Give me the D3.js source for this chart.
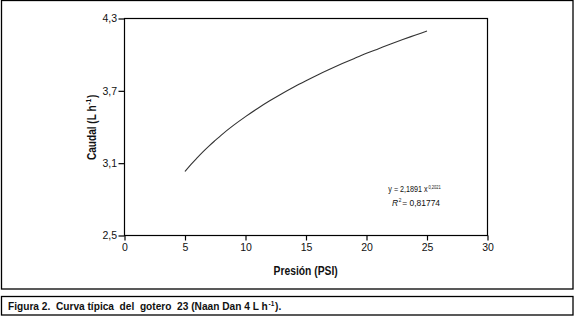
<!DOCTYPE html>
<html>
  <head>
    <meta charset="UTF-8" />
    <script src="https://d3js.org/d3.v7.min.js"></script>
    <style>
      body { margin: 0; background: #fff; }
      text { font-family: "Liberation Sans", Arial, sans-serif; fill: #111; }
    </style>
  </head>
  <body>
    <div id="my_dataviz"></div>
    <script>
      // values
      var presion = [5, 5.5, 6, 6.5, 7, 7.5, 8, 9, 10, 11, 12, 13, 14, 15, 16, 17, 18, 19, 20, 21, 22, 23, 24, 25];
      var caudal = [3.031, 3.090, 3.144, 3.196, 3.244, 3.289, 3.333, 3.413, 3.486, 3.554, 3.617, 3.676, 3.732,
                    3.784, 3.834, 3.881, 3.926, 3.969, 4.011, 4.050, 4.089, 4.126, 4.161, 4.196];
      var xTicks = [0, 5, 10, 15, 20, 25, 30];
      var yTicks = [2.5, 3.1, 3.7, 4.3];

      var W = 574, H = 317;
      var margin = { top: 18.5, left: 124.5 },
        width = 487.5 - margin.left,
        height = 235.5 - margin.top;

      var svg = d3.select("#my_dataviz").append("svg")
        .attr("width", W).attr("height", H);

      // outer frames
      svg.append("rect").attr("x", 1.5).attr("y", 0.5).attr("width", 571.5).attr("height", 288.5)
        .attr("fill", "none").attr("stroke", "#000").attr("stroke-width", 1.3);
      svg.append("rect").attr("x", 1.5).attr("y", 296.5).attr("width", 571.5).attr("height", 18.5)
        .attr("fill", "none").attr("stroke", "#000").attr("stroke-width", 1.3);

      var g = svg.append("g").attr("transform", "translate(" + margin.left + "," + margin.top + ")");

      var xScale = d3.scaleLinear().domain([0, 30]).range([0, width]);
      var yScale = d3.scaleLinear().domain([2.5, 4.3]).range([height, 0]);

      g.append("rect").attr("width", width).attr("height", height)
        .attr("fill", "none").attr("stroke", "#000").attr("stroke-width", 1.2);

      var xAxis = g.append("g").attr("transform", "translate(0," + height + ")")
        .call(d3.axisBottom(xScale).tickValues(xTicks).tickSize(5).tickPadding(3));
      var yAxis = g.append("g")
        .call(d3.axisLeft(yScale).tickValues(yTicks).tickSize(6).tickPadding(1.5)
          .tickFormat(function (d) { return d3.format(".1f")(d).replace(".", ","); }));
      [xAxis, yAxis].forEach(function (a) {
        a.select(".domain").remove();
        a.selectAll("line").attr("stroke", "#000").attr("stroke-width", 1.2);
        a.selectAll("text").style("font-size", "10.5px").style("font-family", "Liberation Sans, Arial, sans-serif")
          .attr("fill", "#222");
      });

      var smooth = d3.line()
        .x(function (d, i) { return xScale(presion[i]); })
        .y(function (d) { return yScale(d); })
        .curve(d3.curveMonotoneX);

      g.append("path").attr("d", smooth(caudal))
        .attr("fill", "none").attr("stroke", "#333").attr("stroke-width", 1.1);

      // text with superscript pieces, each its own <text>, squeezed to a target width
      function supText(parent, base, parts, opts) {
        var grp = parent.append("g");
        var inner = grp.append("g");
        var cx = 0;
        parts.forEach(function (p) {
          var t = inner.append("text").attr("x", cx).attr("y", p.sup ? -p.rise : 0)
            .style("font-size", p.size + "px")
            .style("font-weight", opts.bold ? "bold" : null)
            .style("font-style", p.italic ? "italic" : null)
            .attr("xml:space", "preserve")
            .text(p.t);
          cx += t.node().getComputedTextLength() + 0.8;
        });
        var sx = opts.width ? opts.width / cx : 1;
        var dx = opts.center ? -opts.width / 2 : 0;
        grp.attr("transform", base);
        inner.attr("transform", "translate(" + dx + ",0) scale(" + sx + ",1)");
        return grp;
      }

      // equation
      supText(g, "translate(" + xScale(21.8) + "," + yScale(2.86) + ")", [
        { t: "y = 2,1891 x", size: 9 },
        { t: "0,2021", size: 5, sup: true, rise: 3.5 }
      ], { width: 53 });
      supText(g, "translate(" + xScale(22.1) + "," + yScale(2.745) + ")", [
        { t: "R", size: 9, italic: true },
        { t: "2", size: 5, sup: true, rise: 3.5 },
        { t: "= 0,81774", size: 9 }
      ], { width: 49 });

      // axis titles
      supText(g, "translate(" + (width / 2) + "," + (height + 39) + ")", [
        { t: "Presión (PSI)", size: 12 }
      ], { bold: true, center: true, width: 65 });
      supText(g, "translate(-29," + (height / 2) + ") rotate(-90)", [
        { t: "Caudal (L h", size: 12 },
        { t: "-1", size: 8, sup: true, rise: 5 },
        { t: ")", size: 12 }
      ], { bold: true, center: true, width: 66 });

      // caption
      supText(svg, "translate(8,310)", [
        { t: "Figura 2.  Curva típica  del  gotero  23 (Naan Dan 4 L h", size: 11 },
        { t: "-1", size: 7, sup: true, rise: 4 },
        { t: ").", size: 11 }
      ], { bold: true, width: 274 });
    </script>
  </body>
</html>
